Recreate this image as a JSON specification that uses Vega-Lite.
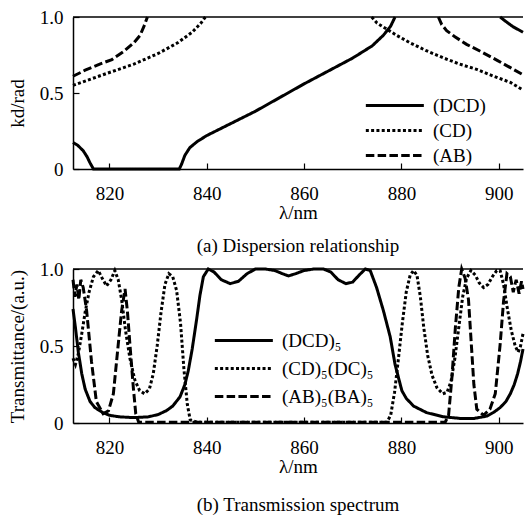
{
  "$schema": "https://vega.github.io/schema/vega-lite/v6.json",
  "padding": {"left": 8, "top": 8, "right": 0, "bottom": 0},
  "background": "white",
  "spacing": 4,
  "config": {
    "font": "Liberation Serif",
    "view": {"stroke": null},
    "axis": {
      "grid": false,
      "domainColor": "black",
      "domainWidth": 1.5,
      "tickColor": "black",
      "tickWidth": 1.2,
      "tickSize": -6,
      "labelFont": "Liberation Serif",
      "labelFontSize": 19,
      "labelColor": "black",
      "labelFlush": false,
      "labelOverlap": false,
      "titleFont": "Liberation Serif",
      "titleFontSize": 19,
      "titleFontWeight": "normal",
      "titleColor": "black"
    },
    "axisX": {"labelPadding": 21, "titlePadding": 0},
    "axisY": {"labelPadding": 16, "titlePadding": 12},
    "legend": {
      "labelFont": "Liberation Serif",
      "labelFontSize": 19,
      "labelColor": "black",
      "symbolType": "M-1,0H5",
      "symbolStrokeColor": "black",
      "symbolStrokeWidth": 3,
      "symbolSize": 374,
      "labelOffset": 46,
      "padding": 0,
      "title": null
    },
    "title": {"font": "Liberation Serif", "fontSize": 19, "fontWeight": "normal", "color": "black"}
  },
  "datasets": {
    "disp": [
      {"s": "(DCD)", "g": 1, "x": 812.5, "y": 0.175},
      {"s": "(DCD)", "g": 1, "x": 813.5, "y": 0.155},
      {"s": "(DCD)", "g": 1, "x": 814.6, "y": 0.12},
      {"s": "(DCD)", "g": 1, "x": 815.4, "y": 0.08},
      {"s": "(DCD)", "g": 1, "x": 816.0, "y": 0.04},
      {"s": "(DCD)", "g": 1, "x": 816.7, "y": 0},
      {"s": "(DCD)", "g": 1, "x": 825.0, "y": 0},
      {"s": "(DCD)", "g": 1, "x": 834.35, "y": 0},
      {"s": "(DCD)", "g": 1, "x": 834.8, "y": 0.03},
      {"s": "(DCD)", "g": 1, "x": 835.5, "y": 0.09},
      {"s": "(DCD)", "g": 1, "x": 836.5, "y": 0.14},
      {"s": "(DCD)", "g": 1, "x": 838.0, "y": 0.18},
      {"s": "(DCD)", "g": 1, "x": 840.0, "y": 0.22},
      {"s": "(DCD)", "g": 1, "x": 845.0, "y": 0.3},
      {"s": "(DCD)", "g": 1, "x": 850.0, "y": 0.38},
      {"s": "(DCD)", "g": 1, "x": 855.0, "y": 0.47},
      {"s": "(DCD)", "g": 1, "x": 860.0, "y": 0.56},
      {"s": "(DCD)", "g": 1, "x": 865.0, "y": 0.645},
      {"s": "(DCD)", "g": 1, "x": 870.0, "y": 0.73},
      {"s": "(DCD)", "g": 1, "x": 874.0, "y": 0.81},
      {"s": "(DCD)", "g": 1, "x": 876.3, "y": 0.88},
      {"s": "(DCD)", "g": 1, "x": 877.8, "y": 0.94},
      {"s": "(DCD)", "g": 1, "x": 878.7, "y": 1.0},
      {"s": "(DCD)", "g": 2, "x": 900.3, "y": 1.0},
      {"s": "(DCD)", "g": 2, "x": 901.5, "y": 0.97},
      {"s": "(DCD)", "g": 2, "x": 903.0, "y": 0.935},
      {"s": "(DCD)", "g": 2, "x": 905.0, "y": 0.9},
      {"s": "(CD)", "g": 1, "x": 812.5, "y": 0.55},
      {"s": "(CD)", "g": 1, "x": 816.0, "y": 0.59},
      {"s": "(CD)", "g": 1, "x": 820.0, "y": 0.635},
      {"s": "(CD)", "g": 1, "x": 825.0, "y": 0.69},
      {"s": "(CD)", "g": 1, "x": 830.0, "y": 0.76},
      {"s": "(CD)", "g": 1, "x": 834.0, "y": 0.83},
      {"s": "(CD)", "g": 1, "x": 837.0, "y": 0.9},
      {"s": "(CD)", "g": 1, "x": 838.8, "y": 0.96},
      {"s": "(CD)", "g": 1, "x": 839.7, "y": 1.0},
      {"s": "(CD)", "g": 2, "x": 873.9, "y": 1.0},
      {"s": "(CD)", "g": 2, "x": 875.0, "y": 0.96},
      {"s": "(CD)", "g": 2, "x": 877.0, "y": 0.92},
      {"s": "(CD)", "g": 2, "x": 879.0, "y": 0.88},
      {"s": "(CD)", "g": 2, "x": 881.8, "y": 0.83},
      {"s": "(CD)", "g": 2, "x": 885.0, "y": 0.78},
      {"s": "(CD)", "g": 2, "x": 888.7, "y": 0.73},
      {"s": "(CD)", "g": 2, "x": 892.0, "y": 0.69},
      {"s": "(CD)", "g": 2, "x": 895.5, "y": 0.655},
      {"s": "(CD)", "g": 2, "x": 899.0, "y": 0.61},
      {"s": "(CD)", "g": 2, "x": 902.4, "y": 0.57},
      {"s": "(CD)", "g": 2, "x": 905.0, "y": 0.52},
      {"s": "(AB)", "g": 1, "x": 812.5, "y": 0.61},
      {"s": "(AB)", "g": 1, "x": 815.0, "y": 0.65},
      {"s": "(AB)", "g": 1, "x": 818.0, "y": 0.69},
      {"s": "(AB)", "g": 1, "x": 820.5, "y": 0.72},
      {"s": "(AB)", "g": 1, "x": 822.8, "y": 0.77},
      {"s": "(AB)", "g": 1, "x": 825.0, "y": 0.83},
      {"s": "(AB)", "g": 1, "x": 826.3, "y": 0.88},
      {"s": "(AB)", "g": 1, "x": 827.1, "y": 0.94},
      {"s": "(AB)", "g": 1, "x": 827.8, "y": 1.0},
      {"s": "(AB)", "g": 2, "x": 887.6, "y": 1.0},
      {"s": "(AB)", "g": 2, "x": 888.3, "y": 0.95},
      {"s": "(AB)", "g": 2, "x": 889.3, "y": 0.91},
      {"s": "(AB)", "g": 2, "x": 891.0, "y": 0.87},
      {"s": "(AB)", "g": 2, "x": 893.4, "y": 0.82},
      {"s": "(AB)", "g": 2, "x": 896.5, "y": 0.77},
      {"s": "(AB)", "g": 2, "x": 899.7, "y": 0.715},
      {"s": "(AB)", "g": 2, "x": 902.5, "y": 0.665},
      {"s": "(AB)", "g": 2, "x": 905.0, "y": 0.62}
    ],
    "trans": [
      {"s": "(DCD)₅", "x": 812.5, "y": 0.74},
      {"s": "(DCD)₅", "x": 813.0, "y": 0.62},
      {"s": "(DCD)₅", "x": 813.6, "y": 0.46},
      {"s": "(DCD)₅", "x": 814.3, "y": 0.32},
      {"s": "(DCD)₅", "x": 815.0, "y": 0.22},
      {"s": "(DCD)₅", "x": 816.0, "y": 0.14},
      {"s": "(DCD)₅", "x": 817.0, "y": 0.1},
      {"s": "(DCD)₅", "x": 818.5, "y": 0.07},
      {"s": "(DCD)₅", "x": 820.0, "y": 0.05},
      {"s": "(DCD)₅", "x": 822.0, "y": 0.04},
      {"s": "(DCD)₅", "x": 825.0, "y": 0.035},
      {"s": "(DCD)₅", "x": 828.0, "y": 0.04},
      {"s": "(DCD)₅", "x": 830.0, "y": 0.055},
      {"s": "(DCD)₅", "x": 831.7, "y": 0.08},
      {"s": "(DCD)₅", "x": 833.0, "y": 0.11},
      {"s": "(DCD)₅", "x": 834.5, "y": 0.17},
      {"s": "(DCD)₅", "x": 835.5, "y": 0.25},
      {"s": "(DCD)₅", "x": 836.2, "y": 0.34},
      {"s": "(DCD)₅", "x": 837.0, "y": 0.48},
      {"s": "(DCD)₅", "x": 837.9, "y": 0.67},
      {"s": "(DCD)₅", "x": 838.6, "y": 0.83},
      {"s": "(DCD)₅", "x": 839.3, "y": 0.95},
      {"s": "(DCD)₅", "x": 840.3, "y": 1.0},
      {"s": "(DCD)₅", "x": 841.5, "y": 0.98},
      {"s": "(DCD)₅", "x": 843.0, "y": 0.93},
      {"s": "(DCD)₅", "x": 844.8, "y": 0.905},
      {"s": "(DCD)₅", "x": 846.5, "y": 0.92},
      {"s": "(DCD)₅", "x": 848.3, "y": 0.97},
      {"s": "(DCD)₅", "x": 850.0, "y": 1.0},
      {"s": "(DCD)₅", "x": 852.0, "y": 1.0},
      {"s": "(DCD)₅", "x": 854.0, "y": 0.99},
      {"s": "(DCD)₅", "x": 855.5, "y": 0.97},
      {"s": "(DCD)₅", "x": 856.8, "y": 0.955},
      {"s": "(DCD)₅", "x": 858.3, "y": 0.97},
      {"s": "(DCD)₅", "x": 860.0, "y": 0.99},
      {"s": "(DCD)₅", "x": 862.0, "y": 1.0},
      {"s": "(DCD)₅", "x": 864.0, "y": 1.0},
      {"s": "(DCD)₅", "x": 865.5, "y": 0.98},
      {"s": "(DCD)₅", "x": 867.0, "y": 0.93},
      {"s": "(DCD)₅", "x": 868.6, "y": 0.905},
      {"s": "(DCD)₅", "x": 870.0, "y": 0.915},
      {"s": "(DCD)₅", "x": 871.3, "y": 0.96},
      {"s": "(DCD)₅", "x": 872.6, "y": 1.0},
      {"s": "(DCD)₅", "x": 873.6, "y": 0.99},
      {"s": "(DCD)₅", "x": 874.9, "y": 0.88},
      {"s": "(DCD)₅", "x": 876.3, "y": 0.73},
      {"s": "(DCD)₅", "x": 877.7, "y": 0.56},
      {"s": "(DCD)₅", "x": 878.7, "y": 0.38},
      {"s": "(DCD)₅", "x": 880.1, "y": 0.21},
      {"s": "(DCD)₅", "x": 881.0, "y": 0.16},
      {"s": "(DCD)₅", "x": 882.5, "y": 0.11},
      {"s": "(DCD)₅", "x": 885.2, "y": 0.067},
      {"s": "(DCD)₅", "x": 888.7, "y": 0.04},
      {"s": "(DCD)₅", "x": 892.0, "y": 0.03},
      {"s": "(DCD)₅", "x": 895.0, "y": 0.03},
      {"s": "(DCD)₅", "x": 897.6, "y": 0.045},
      {"s": "(DCD)₅", "x": 899.0, "y": 0.07},
      {"s": "(DCD)₅", "x": 900.3, "y": 0.1},
      {"s": "(DCD)₅", "x": 901.5, "y": 0.14},
      {"s": "(DCD)₅", "x": 902.4, "y": 0.19},
      {"s": "(DCD)₅", "x": 903.2, "y": 0.25},
      {"s": "(DCD)₅", "x": 903.9, "y": 0.32},
      {"s": "(DCD)₅", "x": 904.5, "y": 0.4},
      {"s": "(DCD)₅", "x": 905.0, "y": 0.48},
      {"s": "(CD)₅(DC)₅", "x": 812.5, "y": 0.42},
      {"s": "(CD)₅(DC)₅", "x": 813.0, "y": 0.38},
      {"s": "(CD)₅(DC)₅", "x": 813.6, "y": 0.45},
      {"s": "(CD)₅(DC)₅", "x": 814.3, "y": 0.58},
      {"s": "(CD)₅(DC)₅", "x": 815.0, "y": 0.72},
      {"s": "(CD)₅(DC)₅", "x": 815.8, "y": 0.85},
      {"s": "(CD)₅(DC)₅", "x": 816.7, "y": 0.95},
      {"s": "(CD)₅(DC)₅", "x": 817.7, "y": 0.99},
      {"s": "(CD)₅(DC)₅", "x": 818.5, "y": 0.94},
      {"s": "(CD)₅(DC)₅", "x": 819.4, "y": 0.89},
      {"s": "(CD)₅(DC)₅", "x": 820.3, "y": 0.93},
      {"s": "(CD)₅(DC)₅", "x": 821.1, "y": 0.99},
      {"s": "(CD)₅(DC)₅", "x": 821.8, "y": 0.93},
      {"s": "(CD)₅(DC)₅", "x": 822.5, "y": 0.8},
      {"s": "(CD)₅(DC)₅", "x": 823.3, "y": 0.6},
      {"s": "(CD)₅(DC)₅", "x": 824.2, "y": 0.42},
      {"s": "(CD)₅(DC)₅", "x": 825.2, "y": 0.28},
      {"s": "(CD)₅(DC)₅", "x": 826.2, "y": 0.21},
      {"s": "(CD)₅(DC)₅", "x": 827.2, "y": 0.19},
      {"s": "(CD)₅(DC)₅", "x": 828.2, "y": 0.22},
      {"s": "(CD)₅(DC)₅", "x": 829.0, "y": 0.32},
      {"s": "(CD)₅(DC)₅", "x": 829.8, "y": 0.5},
      {"s": "(CD)₅(DC)₅", "x": 830.6, "y": 0.72},
      {"s": "(CD)₅(DC)₅", "x": 831.4, "y": 0.9},
      {"s": "(CD)₅(DC)₅", "x": 832.2, "y": 0.97},
      {"s": "(CD)₅(DC)₅", "x": 833.0, "y": 0.95},
      {"s": "(CD)₅(DC)₅", "x": 833.8, "y": 0.86},
      {"s": "(CD)₅(DC)₅", "x": 834.6, "y": 0.65},
      {"s": "(CD)₅(DC)₅", "x": 835.3, "y": 0.35},
      {"s": "(CD)₅(DC)₅", "x": 836.0, "y": 0.12},
      {"s": "(CD)₅(DC)₅", "x": 836.6, "y": 0.02},
      {"s": "(CD)₅(DC)₅", "x": 838.0, "y": 0.005},
      {"s": "(CD)₅(DC)₅", "x": 860.0, "y": 0.005},
      {"s": "(CD)₅(DC)₅", "x": 877.0, "y": 0.005},
      {"s": "(CD)₅(DC)₅", "x": 877.8, "y": 0.05},
      {"s": "(CD)₅(DC)₅", "x": 878.6, "y": 0.2},
      {"s": "(CD)₅(DC)₅", "x": 879.4, "y": 0.42},
      {"s": "(CD)₅(DC)₅", "x": 880.2, "y": 0.65},
      {"s": "(CD)₅(DC)₅", "x": 881.0, "y": 0.85},
      {"s": "(CD)₅(DC)₅", "x": 881.8, "y": 0.96},
      {"s": "(CD)₅(DC)₅", "x": 882.5, "y": 0.99},
      {"s": "(CD)₅(DC)₅", "x": 883.2, "y": 0.96},
      {"s": "(CD)₅(DC)₅", "x": 883.9, "y": 0.82},
      {"s": "(CD)₅(DC)₅", "x": 884.6, "y": 0.62},
      {"s": "(CD)₅(DC)₅", "x": 885.4, "y": 0.44},
      {"s": "(CD)₅(DC)₅", "x": 886.3, "y": 0.31},
      {"s": "(CD)₅(DC)₅", "x": 887.3, "y": 0.23},
      {"s": "(CD)₅(DC)₅", "x": 888.5, "y": 0.19},
      {"s": "(CD)₅(DC)₅", "x": 889.4, "y": 0.2},
      {"s": "(CD)₅(DC)₅", "x": 890.2, "y": 0.27},
      {"s": "(CD)₅(DC)₅", "x": 891.0, "y": 0.42},
      {"s": "(CD)₅(DC)₅", "x": 891.8, "y": 0.62},
      {"s": "(CD)₅(DC)₅", "x": 892.6, "y": 0.82},
      {"s": "(CD)₅(DC)₅", "x": 893.4, "y": 0.94},
      {"s": "(CD)₅(DC)₅", "x": 894.3, "y": 0.99},
      {"s": "(CD)₅(DC)₅", "x": 895.2, "y": 0.96},
      {"s": "(CD)₅(DC)₅", "x": 896.0, "y": 0.91},
      {"s": "(CD)₅(DC)₅", "x": 896.9, "y": 0.88},
      {"s": "(CD)₅(DC)₅", "x": 897.8, "y": 0.9},
      {"s": "(CD)₅(DC)₅", "x": 898.7, "y": 0.95},
      {"s": "(CD)₅(DC)₅", "x": 899.6, "y": 0.99},
      {"s": "(CD)₅(DC)₅", "x": 900.3, "y": 0.99},
      {"s": "(CD)₅(DC)₅", "x": 901.0, "y": 0.9},
      {"s": "(CD)₅(DC)₅", "x": 901.8, "y": 0.74},
      {"s": "(CD)₅(DC)₅", "x": 902.6, "y": 0.6},
      {"s": "(CD)₅(DC)₅", "x": 903.4, "y": 0.5},
      {"s": "(CD)₅(DC)₅", "x": 904.0, "y": 0.46},
      {"s": "(CD)₅(DC)₅", "x": 904.5, "y": 0.5},
      {"s": "(CD)₅(DC)₅", "x": 905.0, "y": 0.58},
      {"s": "(AB)₅(BA)₅", "x": 812.5, "y": 0.93},
      {"s": "(AB)₅(BA)₅", "x": 812.9, "y": 0.82},
      {"s": "(AB)₅(BA)₅", "x": 813.3, "y": 0.9},
      {"s": "(AB)₅(BA)₅", "x": 813.7, "y": 0.8},
      {"s": "(AB)₅(BA)₅", "x": 814.1, "y": 0.93},
      {"s": "(AB)₅(BA)₅", "x": 814.6, "y": 0.88},
      {"s": "(AB)₅(BA)₅", "x": 815.3, "y": 0.73},
      {"s": "(AB)₅(BA)₅", "x": 816.3, "y": 0.4},
      {"s": "(AB)₅(BA)₅", "x": 817.3, "y": 0.14},
      {"s": "(AB)₅(BA)₅", "x": 818.7, "y": 0.06},
      {"s": "(AB)₅(BA)₅", "x": 819.8, "y": 0.08},
      {"s": "(AB)₅(BA)₅", "x": 820.8, "y": 0.19},
      {"s": "(AB)₅(BA)₅", "x": 821.8, "y": 0.51},
      {"s": "(AB)₅(BA)₅", "x": 822.5, "y": 0.73},
      {"s": "(AB)₅(BA)₅", "x": 823.2, "y": 0.87},
      {"s": "(AB)₅(BA)₅", "x": 823.7, "y": 0.72},
      {"s": "(AB)₅(BA)₅", "x": 824.2, "y": 0.51},
      {"s": "(AB)₅(BA)₅", "x": 824.9, "y": 0.23},
      {"s": "(AB)₅(BA)₅", "x": 825.4, "y": 0.06},
      {"s": "(AB)₅(BA)₅", "x": 826.0, "y": 0.005},
      {"s": "(AB)₅(BA)₅", "x": 860.0, "y": 0.005},
      {"s": "(AB)₅(BA)₅", "x": 889.0, "y": 0.005},
      {"s": "(AB)₅(BA)₅", "x": 889.7, "y": 0.05},
      {"s": "(AB)₅(BA)₅", "x": 890.4, "y": 0.3},
      {"s": "(AB)₅(BA)₅", "x": 891.1, "y": 0.62},
      {"s": "(AB)₅(BA)₅", "x": 891.8, "y": 0.88},
      {"s": "(AB)₅(BA)₅", "x": 892.4, "y": 1.0},
      {"s": "(AB)₅(BA)₅", "x": 893.1, "y": 0.94},
      {"s": "(AB)₅(BA)₅", "x": 893.8, "y": 0.8},
      {"s": "(AB)₅(BA)₅", "x": 894.4, "y": 0.5},
      {"s": "(AB)₅(BA)₅", "x": 894.9, "y": 0.25},
      {"s": "(AB)₅(BA)₅", "x": 895.5, "y": 0.09},
      {"s": "(AB)₅(BA)₅", "x": 896.9, "y": 0.05},
      {"s": "(AB)₅(BA)₅", "x": 898.2, "y": 0.09},
      {"s": "(AB)₅(BA)₅", "x": 899.3, "y": 0.19},
      {"s": "(AB)₅(BA)₅", "x": 900.3, "y": 0.51},
      {"s": "(AB)₅(BA)₅", "x": 901.0, "y": 0.79},
      {"s": "(AB)₅(BA)₅", "x": 901.7, "y": 0.97},
      {"s": "(AB)₅(BA)₅", "x": 902.4, "y": 0.95},
      {"s": "(AB)₅(BA)₅", "x": 903.0, "y": 0.85},
      {"s": "(AB)₅(BA)₅", "x": 903.6, "y": 0.93},
      {"s": "(AB)₅(BA)₅", "x": 904.2, "y": 0.84},
      {"s": "(AB)₅(BA)₅", "x": 904.7, "y": 0.92},
      {"s": "(AB)₅(BA)₅", "x": 905.0, "y": 0.87}
    ]
  },
  "vconcat": [
    {
      "width": 450,
      "height": 152,
      "title": {"text": "(a) Dispersion relationship", "orient": "bottom", "offset": 15},
      "layer": [
        {
          "data": {"name": "disp"},
          "mark": {"type": "line", "strokeWidth": 3, "color": "black", "strokeCap": "butt"},
          "encoding": {
            "x": {"field": "x", "type": "quantitative", "scale": {"domain": [812.5, 905], "nice": false, "zero": false}, "axis": {"title": "λ/nm", "values": [820, 840, 860, 880, 900], "labelFont": "Liberation Serif", "titleFont": "Liberation Serif"}},
            "y": {"field": "y", "type": "quantitative", "scale": {"domain": [0, 1], "nice": false}, "axis": {"title": "kd/rad", "titleY": 86, "values": [0, 0.5, 1], "labelFont": "Liberation Serif", "titleFont": "Liberation Serif", "labelExpr": "datum.value === 0 ? '0' : format(datum.value, '.1f')"}},
            "strokeDash": {"field": "s", "type": "nominal", "scale": {"domain": ["(DCD)", "(CD)", "(AB)"], "range": [[1, 0], [3, 2.3], [8.5, 3.3]]}, "legend": {"orient": "none", "legendX": 291, "legendY": 77, "rowPadding": 3}},
            "detail": {"field": "g"}
          }
        },
        {
          "data": {"values": [{}]},
          "mark": {"type": "rule", "strokeWidth": 1.5, "color": "black"},
          "encoding": {"y": {"datum": 1}}
        }
      ]
    },
    {
      "width": 450,
      "height": 154,
      "title": {"text": "(b) Transmission spectrum", "orient": "bottom", "offset": 20},
      "layer": [
        {
          "data": {"name": "trans"},
          "mark": {"type": "line", "strokeWidth": 3, "color": "black", "strokeCap": "butt"},
          "encoding": {
            "x": {"field": "x", "type": "quantitative", "scale": {"domain": [812.5, 905], "nice": false, "zero": false}, "axis": {"title": "λ/nm", "values": [820, 840, 860, 880, 900], "labelFont": "Liberation Serif", "titleFont": "Liberation Serif"}},
            "y": {"field": "y", "type": "quantitative", "scale": {"domain": [0, 1], "nice": false}, "axis": {"title": "Transmittance/(a.u.)", "values": [0, 0.5, 1], "labelFont": "Liberation Serif", "titleFont": "Liberation Serif", "labelExpr": "datum.value === 0 ? '0' : format(datum.value, '.1f')"}},
            "strokeDash": {"field": "s", "type": "nominal", "scale": {"domain": ["(DCD)₅", "(CD)₅(DC)₅", "(AB)₅(BA)₅"], "range": [[1, 0], [3, 2.3], [8.5, 3.3]]}, "legend": {"orient": "none", "legendX": 140, "legendY": 60, "rowPadding": 6}}
          }
        },
        {
          "data": {"values": [{}]},
          "mark": {"type": "rule", "strokeWidth": 1.5, "color": "black"},
          "encoding": {"y": {"datum": 1}}
        }
      ]
    }
  ],
  "resolve": {"scale": {"strokeDash": "independent"}, "legend": {"strokeDash": "independent"}}
}
